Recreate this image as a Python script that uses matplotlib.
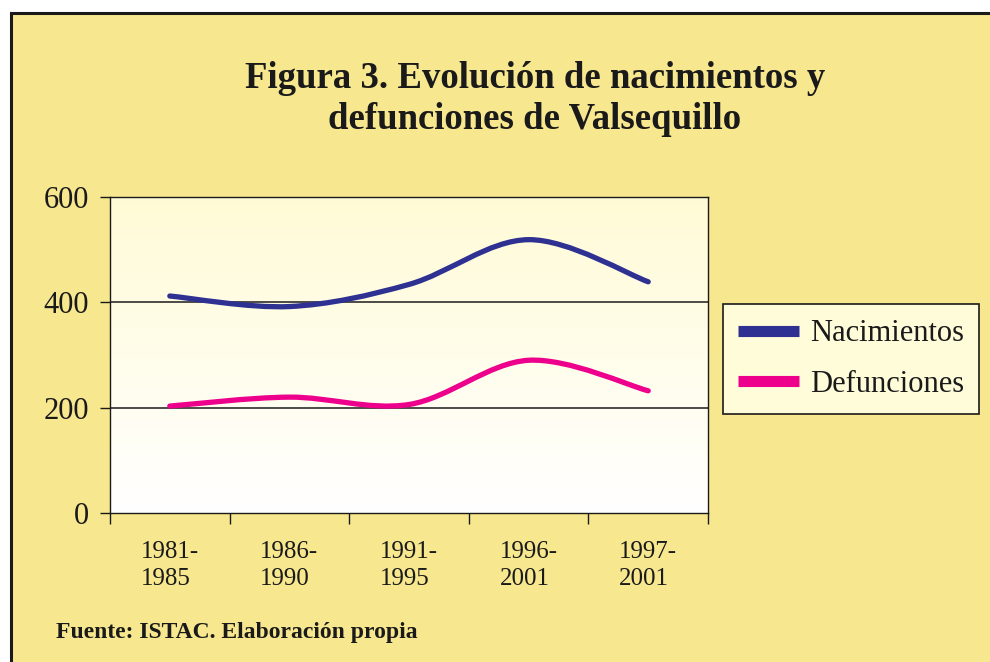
import numpy as np
import matplotlib.pyplot as plt
from matplotlib.patches import Rectangle, PathPatch
from matplotlib.path import Path
from matplotlib.lines import Line2D

# Data
periods = ['1981-\n1985', '1986-\n1990', '1991-\n1995', '1996-\n2001', '1997-\n2001']
nacimientos = [412, 392, 434, 519, 439]
defunciones = [203, 220, 206, 290, 232]

BG = '#F7E78E'
BLUE = '#2E3192'
PINK = '#EC008C'

plt.rcParams['font.family'] = ['Liberation Serif', 'DejaVu Serif']

fig = plt.figure(figsize=(9.9, 6.62), dpi=100)
fig.patch.set_facecolor('white')

# yellow panel with black border on top/left
W, H = 990, 662
panel = Rectangle((11 / W, -0.05), 1.1, 1 - 13 / H + 0.05, transform=fig.transFigure,
                  facecolor=BG, edgecolor='#1a1a1a', linewidth=2.2, zorder=-1)
fig.patches.append(panel)

ax = fig.add_axes([110 / W, 1 - 513 / H, (708 - 110) / W, (513 - 197) / H])
ax.set_facecolor('none')
ax.set_zorder(1)

# gradient plot area: light yellow at top to white at bottom
grad = np.linspace(0, 1, 256).reshape(-1, 1)
top = np.array([1.0, 0.984, 0.84])
bot = np.array([1.0, 1.0, 1.0])
img = bot + (top - bot) * grad
ax.imshow(img[:, None, :].repeat(2, axis=1), extent=[0, 1, 0, 1], transform=ax.transAxes,
          origin='lower', aspect='auto', zorder=0)


def smooth_path(xs, ys):
    # Catmull-Rom style smoothing turned into cubic Bezier segments
    xs = np.asarray(xs, float)
    ys = np.asarray(ys, float)
    n = len(xs)
    verts = [(xs[0], ys[0])]
    codes = [Path.MOVETO]
    for i in range(n - 1):
        p0 = i - 1 if i > 0 else i
        p3 = i + 2 if i + 2 < n else i + 1
        c1 = (xs[i] + (xs[i + 1] - xs[p0]) / 6, ys[i] + (ys[i + 1] - ys[p0]) / 6)
        c2 = (xs[i + 1] - (xs[p3] - xs[i]) / 6, ys[i + 1] - (ys[p3] - ys[i]) / 6)
        verts += [c1, c2, (xs[i + 1], ys[i + 1])]
        codes += [Path.CURVE4] * 3
    return Path(verts, codes)


x = np.arange(len(periods))
for vals, col in [(nacimientos, BLUE), (defunciones, PINK)]:
    ax.add_patch(PathPatch(smooth_path(x, vals), facecolor='none', edgecolor=col,
                           linewidth=3.8, capstyle='round', joinstyle='round', zorder=3))

for yv in [200, 400]:
    ax.axhline(yv, color='#1a1a1a', linewidth=1.1, zorder=2)

ax.set_xlim(-0.5, len(periods) - 0.5)
ax.set_ylim(0, 600)
ax.set_yticks([0, 200, 400, 600])
ax.tick_params(axis='y', labelsize=22, length=7, width=1, direction='out', pad=8,
               colors='#1a1a1a')
ax.set_xticks(x)
ax.set_xticklabels(periods, multialignment='left', linespacing=1.3)
ax.tick_params(axis='x', which='major', length=0, labelsize=18, pad=20, colors='#1a1a1a')
ax.set_xticks(np.arange(-0.5, len(periods), 1.0), minor=True)
ax.tick_params(axis='x', which='minor', length=8, width=1, direction='out', color='#1a1a1a')
for s in ax.spines.values():
    s.set_color('#1a1a1a')
    s.set_linewidth(1.0)

fig.text(535 / W, 1 - 99 / H, 'Figura 3. Evolución de nacimientos y\ndefunciones de Valsequillo',
         ha='center', va='center', fontsize=26.5, fontweight='bold', color='#1a1a1a',
         linespacing=1.24)

fig.text(56 / W, 1 - 638 / H, 'Fuente: ISTAC. Elaboración propia', ha='left', va='baseline',
         fontsize=17, fontweight='bold', color='#1a1a1a')

handles = [Line2D([], [], color=BLUE, linewidth=8, solid_capstyle='butt'),
           Line2D([], [], color=PINK, linewidth=8, solid_capstyle='butt')]
leg = fig.legend(handles, ['Nacimientos', 'Defunciones'], loc='upper left',
                 bbox_to_anchor=(723 / W, 1 - 304 / H), borderaxespad=0,
                 fontsize=22, frameon=True, fancybox=False, handlelength=2.0,
                 handletextpad=0.35, labelspacing=0.7, borderpad=0.5)
leg.get_frame().set_facecolor('#FFFCDA')
leg.get_frame().set_edgecolor('#1a1a1a')
leg.get_frame().set_linewidth(1.2)
leg.get_frame().set_alpha(1)
for t in leg.get_texts():
    t.set_color('#1a1a1a')

fig.savefig('out.png', dpi=100)
